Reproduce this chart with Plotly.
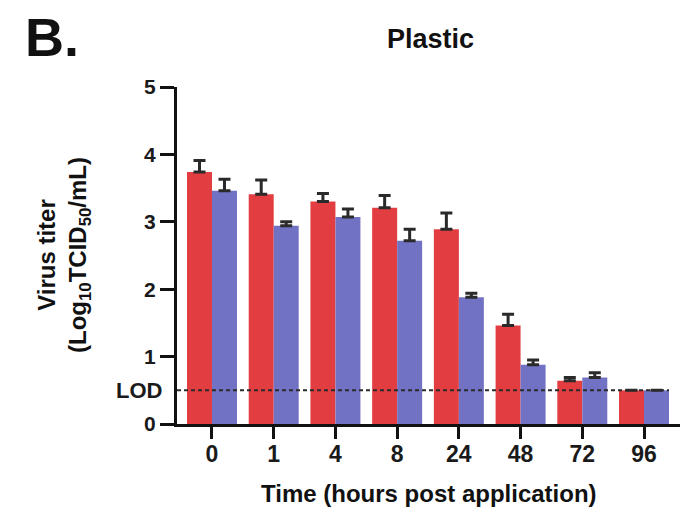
import plotly.graph_objects as go

categories = ["0", "1", "4", "8", "24", "48", "72", "96"]
red_values = [3.74, 3.41, 3.30, 3.21, 2.89, 1.46, 0.64, 0.50]
red_err = [0.17, 0.21, 0.12, 0.18, 0.24, 0.17, 0.05, 0.0]
blue_values = [3.46, 2.94, 3.07, 2.72, 1.88, 0.88, 0.69, 0.50]
blue_err = [0.17, 0.06, 0.12, 0.17, 0.06, 0.07, 0.07, 0.0]
y_ticks = [0, 1, 2, 3, 4, 5]
lod = 0.5

RED = "#E23D40"
BLUE = "#7272C4"
INK = "#1A1A1A"
FONT = "Liberation Sans, Arial, sans-serif"

x_idx = list(range(len(categories)))
x_range = [-0.567, 7.583]

fig = go.Figure()
for vals, errs, col in [(red_values, red_err, RED), (blue_values, blue_err, BLUE)]:
    fig.add_trace(go.Bar(
        x=x_idx, y=vals, marker=dict(color=col, line=dict(width=0)),
        error_y=dict(type="data", symmetric=False, array=errs,
                     arrayminus=[0] * len(errs), color="#2A2A2A",
                     thickness=3, width=6),
        showlegend=False))

fig.add_shape(type="line", xref="x", yref="y", x0=x_range[0], x1=7.405, y0=lod, y1=lod,
              line=dict(color="#2A2A2A", width=2, dash="4px,3px"), layer="above")

fig.add_annotation(text="<b>LOD</b>", xref="paper", yref="y", x=0, y=lod,
                   xanchor="right", yanchor="middle", xshift=-13, showarrow=False,
                   font=dict(family=FONT, size=22, color=INK))
fig.add_annotation(text="<b>B.</b>", xref="paper", yref="paper", x=-0.2485, y=1.147,
                   xanchor="center", yanchor="middle", showarrow=False,
                   font=dict(family=FONT, size=54, color="#111111"))
fig.add_annotation(text="<b>Plastic</b>", xref="paper", yref="paper", x=0.503, y=1.141,
                   xanchor="center", yanchor="middle", showarrow=False,
                   font=dict(family=FONT, size=27, color="#111111"))
fig.add_annotation(text="<b>Virus titer</b><br><b>(Log<sub>10</sub>TCID<sub>50</sub>/mL)</b>",
                   xref="paper", yref="paper", x=-0.2256, y=0.5, textangle=-90,
                   xanchor="center", yanchor="middle", showarrow=False,
                   font=dict(family=FONT, size=24, color="#111111"))
fig.add_annotation(text="<b>Time (hours post application)</b>",
                   xref="paper", yref="paper", x=0.5, y=-0.205,
                   xanchor="center", yanchor="middle", showarrow=False,
                   font=dict(family=FONT, size=24, color="#111111"))

fig.update_layout(
    width=687, height=509,
    margin=dict(l=177, r=7, t=87, b=85),
    paper_bgcolor="white", plot_bgcolor="white",
    barmode="group", bargap=0.19, bargroupgap=0.0,
    font=dict(family=FONT, color=INK),
)
fig.update_xaxes(
    range=x_range, tickvals=x_idx, ticktext=[f"<b>{c}</b>" for c in categories],
    showline=True, linecolor="#111111", linewidth=3,
    ticks="outside", tickwidth=3, ticklen=12, tickcolor="#111111",
    tickfont=dict(family=FONT, size=23, color=INK), ticklabelstandoff=-5,
    showgrid=False, zeroline=False,
)
fig.update_yaxes(
    range=[0, 5], tickvals=y_ticks, ticktext=[f"<b>{v}</b>" for v in y_ticks],
    showline=True, linecolor="#111111", linewidth=3,
    ticks="outside", tickwidth=3, ticklen=14, tickcolor="#111111",
    tickfont=dict(family=FONT, size=21, color=INK),
    showgrid=False, zeroline=False,
)

fig.write_html("out.html")
